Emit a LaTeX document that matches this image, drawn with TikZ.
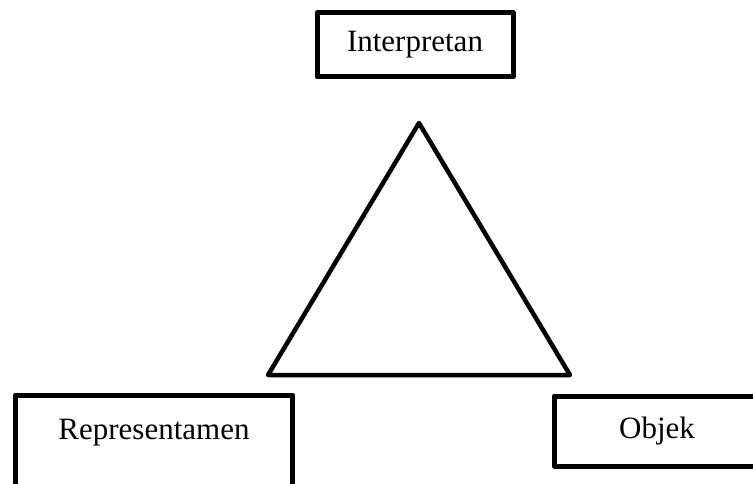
\documentclass[tikz,border=0pt]{standalone}
\usepackage{fontspec}
\setmainfont{Liberation Serif}
\usepackage{tikz}
\usetikzlibrary{shapes,arrows}

\begin{document}
\begin{tikzpicture}[x=1pt, y=-1pt,
      block_sign/.style ={rectangle, draw=black, line width=5pt,
        line join=round, fill=white, inner sep=0pt,
        font=\fontsize{31}{37}\selectfont},
      block_tri/.style ={draw=black, line width=4.5pt, line join=round}]
    %
    % 0. page size
    \useasboundingbox (0,0) rectangle (753,484);
    %
    % 1. the three corners of the sign
    \node [block_sign, minimum width=196pt, minimum height=64pt]
      (interpretan) at (415,45) {Interpretan};
    \node [block_sign, minimum width=277pt, text height=44pt, text depth=70pt,
      anchor=base] (representamen) at (154,439) {Representamen};
    \node [block_sign, minimum width=206pt, minimum height=70pt]
      (objek) at (657,431) {Objek};
    %
    % 2. the triangle
    \coordinate (top) at (419,123);
    \coordinate (left) at (268,375);
    \coordinate (right) at (570,375);
    \draw [block_tri] (top) -- (left) -- (right) -- cycle;
\end{tikzpicture}
\end{document}
